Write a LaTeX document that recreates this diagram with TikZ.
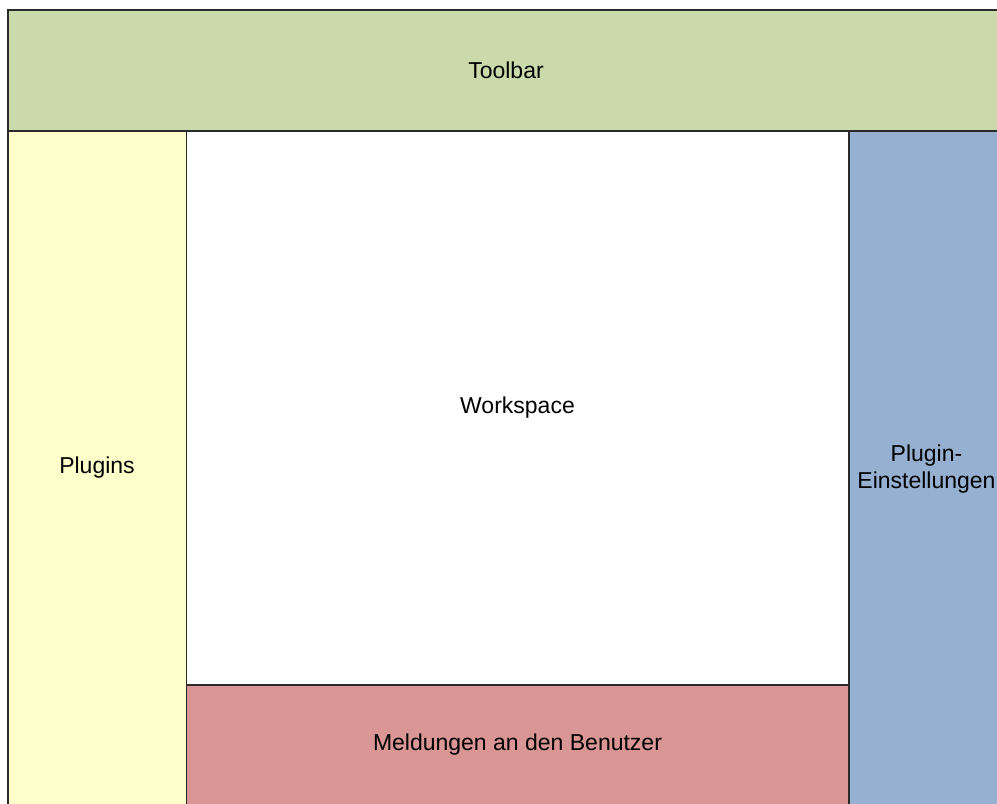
\documentclass[tikz,border=0pt]{standalone}
\usepackage{fontspec}
\setmainfont{Liberation Sans}
\definecolor{tbgreen}{HTML}{CBDAAB}
\definecolor{plyellow}{HTML}{FFFFCC}
\definecolor{msgred}{HTML}{D99694}
\definecolor{setblue}{HTML}{95B0D0}
\definecolor{edge}{HTML}{2A2A2A}
\begin{document}
\begin{tikzpicture}[x=1pt,y=-1pt,
  panel/.style={draw=edge,line width=1.6pt},
  lbl/.style={font=\fontsize{23}{27}\selectfont,text=black,align=center}]
\useasboundingbox (0,0) rectangle (997,804);
\clip (0,0) rectangle (997,804);
\fill[white] (0,0) rectangle (997,804);
% panels
\draw[panel,fill=tbgreen] (8,10) rectangle (1004,131);
\draw[panel,fill=plyellow] (8,131) rectangle (186.5,806);
\draw[panel,fill=white] (186.5,131) rectangle (849,685);
\draw[panel,fill=msgred] (186.5,685) rectangle (849,806);
\draw[panel,fill=setblue] (849,131) rectangle (1004,806);
% labels
\node[lbl] (toolbar) at (506,70.5) {Toolbar};
\node[lbl] (plugins) at (97,468) {Plugins};
\node[lbl] (workspace) at (517.5,408) {Workspace};
\node[lbl] (messages) at (517.5,745) {Meldungen an den Benutzer};
\node[lbl] (settings) at (926.5,469) {Plugin-\\Einstellungen};
\end{tikzpicture}
\end{document}
